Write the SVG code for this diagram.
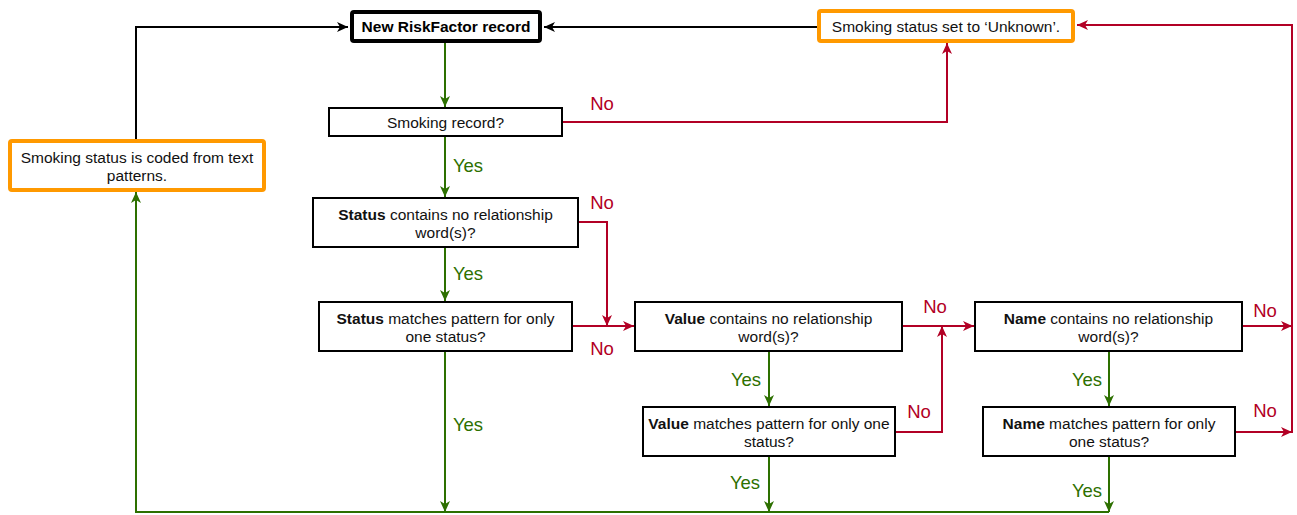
<svg xmlns="http://www.w3.org/2000/svg" width="1297" height="515" viewBox="0 0 1297 515">
  <style>
    text { font-family: "Liberation Sans", Arial, Helvetica, sans-serif; }
    .box { fill: #fff; stroke: #000; stroke-width: 2; }
    .start { fill: #fff; stroke: #000; stroke-width: 4; }
    .out { fill: #fff; stroke: #FF9900; stroke-width: 4; }
    .t { font-size: 15.5px; fill: #111; text-anchor: middle; }
    .tb { font-size: 15.5px; fill: #000; text-anchor: middle; font-weight: bold; }
    b, .b { font-weight: bold; }
    .yes { font-size: 18.5px; fill: #2D7000; text-anchor: middle; }
    .no { font-size: 18.5px; fill: #B20025; text-anchor: middle; }
    .cg { fill: none; stroke: #2D7000; stroke-width: 2; }
    .cr { fill: none; stroke: #B20025; stroke-width: 2; }
    .ck { fill: none; stroke: #000; stroke-width: 2; }
  </style>
  <defs>
    <marker id="ag" markerUnits="userSpaceOnUse" markerWidth="12" markerHeight="10" refX="11" refY="5" orient="auto">
      <path d="M0,0 L11,5 L0,10 L3,5 z" fill="#2D7000"/>
    </marker>
    <marker id="ar" markerUnits="userSpaceOnUse" markerWidth="12" markerHeight="10" refX="11" refY="5" orient="auto">
      <path d="M0,0 L11,5 L0,10 L3,5 z" fill="#B20025"/>
    </marker>
    <marker id="ak" markerUnits="userSpaceOnUse" markerWidth="12" markerHeight="10" refX="11" refY="5" orient="auto">
      <path d="M0,0 L11,5 L0,10 L3,5 z" fill="#000"/>
    </marker>
  </defs>

  <!-- connectors -->
  <g id="connectors">
    <path class="ck" d="M136,139 V27 H348" marker-end="url(#ak)"/>
    <path class="ck" d="M817,27 H544" marker-end="url(#ak)"/>
    <path class="cg" d="M445,43 V107" marker-end="url(#ag)"/>
    <path class="cr" d="M563,122 H947 V43" marker-end="url(#ar)"/>
    <path class="cg" d="M445,137 V197" marker-end="url(#ag)"/>
    <path class="cr" d="M579,222 H607 V326" marker-end="url(#ar)"/>
    <path class="cg" d="M445,248 V301" marker-end="url(#ag)"/>
    <path class="cr" d="M573,326 H634" marker-end="url(#ar)"/>
    <path class="cg" d="M445,352 V512" marker-end="url(#ag)"/>
    <path class="cr" d="M903,326 H974" marker-end="url(#ar)"/>
    <path class="cr" d="M896,432 H942 V326" marker-end="url(#ar)"/>
    <path class="cg" d="M769,352 V406" marker-end="url(#ag)"/>
    <path class="cg" d="M769,457 V512" marker-end="url(#ag)"/>
    <path class="cg" d="M1109,352 V406" marker-end="url(#ag)"/>
    <path class="cg" d="M1109,457 V512" marker-end="url(#ag)"/>
    <path class="cr" d="M1243,326 H1292" marker-end="url(#ar)"/>
    <path class="cr" d="M1236,432 H1292" marker-end="url(#ar)"/>
    <path class="cr" d="M1292,433 V25 H1077" marker-end="url(#ar)"/>
    <path class="cg" d="M1109,512 H136 V192" marker-end="url(#ag)"/>

    <text class="no" x="602" y="110">No</text>
    <text class="yes" x="468" y="172">Yes</text>
    <text class="no" x="602" y="209">No</text>
    <text class="yes" x="468" y="280">Yes</text>
    <text class="no" x="602" y="355">No</text>
    <text class="yes" x="468" y="431">Yes</text>
    <text class="no" x="935" y="313">No</text>
    <text class="no" x="919" y="418">No</text>
    <text class="yes" x="746" y="386">Yes</text>
    <text class="yes" x="745" y="489">Yes</text>
    <text class="yes" x="1087" y="386">Yes</text>
    <text class="yes" x="1087" y="497">Yes</text>
    <text class="no" x="1265" y="317">No</text>
    <text class="no" x="1265" y="417">No</text>
  </g>

  <!-- nodes -->
  <g id="start">
    <rect class="start" x="352" y="12" width="188" height="29" rx="2"/>
    <text class="tb" x="446" y="32">New RiskFactor record</text>
  </g>
  <g id="unknown">
    <rect class="out" x="819" y="11" width="254" height="30" rx="2"/>
    <text class="t" x="946" y="32">Smoking status set to ‘Unknown’.</text>
  </g>
  <g id="smoking-record">
    <rect class="box" x="329" y="108" width="233" height="28"/>
    <text class="t" x="445.5" y="127.5">Smoking record?</text>
  </g>
  <g id="coded">
    <rect class="out" x="10" y="141" width="254" height="49" rx="2"/>
    <text class="t" x="137" y="162.5">Smoking status is coded from text</text>
    <text class="t" x="137" y="180.5">patterns.</text>
  </g>
  <g id="status-contains">
    <rect class="box" x="313" y="198" width="265" height="49"/>
    <text class="t" x="445.5" y="220"><tspan class="b">Status</tspan> contains no relationship</text>
    <text class="t" x="445.5" y="238">word(s)?</text>
  </g>
  <g id="status-matches">
    <rect class="box" x="319" y="302" width="253" height="49"/>
    <text class="t" x="445.5" y="324"><tspan class="b">Status</tspan> matches pattern for only</text>
    <text class="t" x="445.5" y="342">one status?</text>
  </g>
  <g id="value-contains">
    <rect class="box" x="635" y="302" width="267" height="49"/>
    <text class="t" x="768.5" y="324"><tspan class="b">Value</tspan> contains no relationship</text>
    <text class="t" x="768.5" y="342">word(s)?</text>
  </g>
  <g id="value-matches">
    <rect class="box" x="643" y="407" width="252" height="49"/>
    <text class="t" x="769" y="429"><tspan class="b">Value</tspan> matches pattern for only one</text>
    <text class="t" x="769" y="447">status?</text>
  </g>
  <g id="name-contains">
    <rect class="box" x="975" y="302" width="267" height="49"/>
    <text class="t" x="1108.5" y="324"><tspan class="b">Name</tspan> contains no relationship</text>
    <text class="t" x="1108.5" y="342">word(s)?</text>
  </g>
  <g id="name-matches">
    <rect class="box" x="983" y="407" width="252" height="49"/>
    <text class="t" x="1109" y="429"><tspan class="b">Name</tspan> matches pattern for only</text>
    <text class="t" x="1109" y="447">one status?</text>
  </g>
</svg>
